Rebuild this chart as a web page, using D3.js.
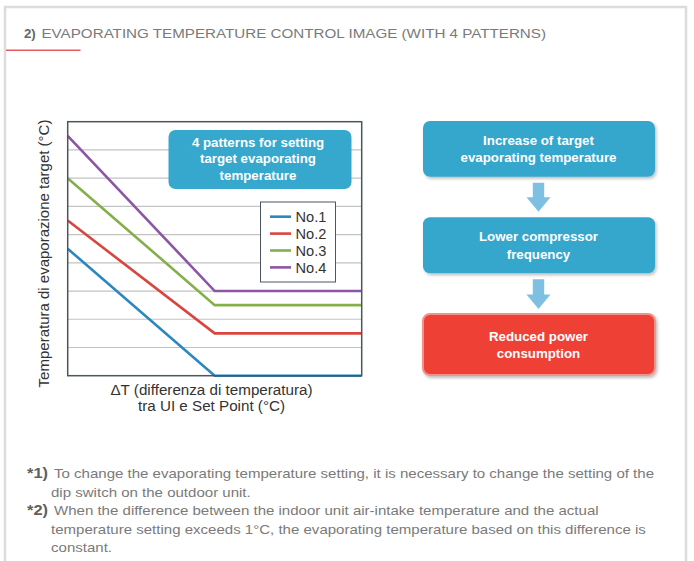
<!DOCTYPE html>
<html><head><meta charset="utf-8">
<script src="https://cdn.jsdelivr.net/npm/d3@7"></script>
<style>
html,body{margin:0;padding:0;background:#fff;}
svg{display:block;font-family:"Liberation Sans",Arial,sans-serif;}
</style></head>
<body><svg id="c" width="694" height="561"></svg>
<script>
// ---- data ----
const seriesNames = ["No.1","No.2","No.3","No.4"];
const seriesColors = ["#2a87c0","#d94640","#83b04a","#8c55a6"];
const deltaT = [0, 1, 2];
const no1 = [4.5, 0, 0];
const no2 = [5.5, 1.5, 1.5];
const no3 = [7, 2.5, 2.5];
const no4 = [8.5, 3, 3];
const gridValues = [1,2,3,4,5,6,7,8];
const titleBold = "2)";
const titleText = "EVAPORATING TEMPERATURE CONTROL IMAGE (WITH 4 PATTERNS)";
const yLabel = "Temperatura di evaporazione target (°C)";
const xLabel = ["ΔT (differenza di temperatura)", "tra UI e Set Point (°C)"];
const calloutText = ["4 patterns for setting", "target evaporating", "temperature"];
const flowSteps = [["Increase of target","evaporating temperature"],["Lower compressor","frequency"],["Reduced power","consumption"]];
const notes = [
  ["*1)", ["To change the evaporating temperature setting, it is necessary to change the setting of the", "dip switch on the outdoor unit."]],
  ["*2)", ["When the difference between the indoor unit air-intake temperature and the actual", "temperature setting exceeds 1°C, the evaporating temperature based on this difference is", "constant."]]
];

const svg = d3.select("#c");
const defs = svg.append("defs");
const f = defs.append("filter").attr("id","sh").attr("x","-10%").attr("y","-10%").attr("width","130%").attr("height","140%");
f.append("feDropShadow").attr("dx",1.5).attr("dy",2).attr("stdDeviation",1.5).attr("flood-color","#000").attr("flood-opacity",0.25);

// card
svg.append("rect").attr("x",5).attr("y",7).attr("width",681).attr("height",570)
  .attr("fill","#fff").attr("stroke","#dcdcdc").attr("stroke-width",2.5);
svg.append("text").attr("x",24).attr("y",37.5).attr("font-size",13.2).attr("font-weight","bold").attr("fill","#666").text(titleBold);
svg.append("text").attr("x",41.5).attr("y",37.5).attr("font-size",13.2).attr("fill","#7a7a7a")
  .attr("textLength",504.5).attr("lengthAdjust","spacingAndGlyphs").text(titleText);
svg.append("line").attr("x1",6).attr("x2",80.5).attr("y1",50.3).attr("y2",50.3).attr("stroke","#e7595e").attr("stroke-width",1.6);

// chart
const x = d3.scaleLinear().domain([0,2]).range([67.7,361.7]);
const y = d3.scaleLinear().domain([0,9]).range([375.7,121.7]);
const g = svg.append("g");
g.selectAll(".grid").data(gridValues).join("line")
  .attr("x1",x(0)).attr("x2",x(2)).attr("y1",d=>y(d)).attr("y2",d=>y(d))
  .attr("stroke","#c3c3c3").attr("stroke-width",1.2);

const allSeries = [no1,no2,no3,no4];
const line = d3.line().x((d,i)=>x(deltaT[i])).y(d=>y(d));
g.selectAll(".ser").data(allSeries).join("path")
  .attr("d",line).attr("fill","none").attr("stroke",(d,i)=>seriesColors[i]).attr("stroke-width",2.6);

g.append("rect").attr("x",x(0)).attr("y",y(9)).attr("width",x(2)-x(0)).attr("height",y(0)-y(9))
  .attr("fill","none").attr("stroke","#4b5661").attr("stroke-width",1.5);

// callout
svg.append("rect").attr("x",168.5).attr("y",130).attr("width",183).attr("height",59).attr("rx",7)
  .attr("fill","#36a7cd");
svg.append("text").attr("text-anchor","middle").attr("font-weight","bold").attr("font-size",13.3).attr("fill","#fff")
  .selectAll("tspan").data(calloutText).join("tspan").attr("x",258).attr("y",(d,i)=>146.5+i*16.7).text(d=>d);

// legend
svg.append("rect").attr("x",260.5).attr("y",202).attr("width",75).attr("height",80)
  .attr("fill","#fff").attr("stroke","#4b5661").attr("stroke-width",1);
const lg = svg.append("g").selectAll("g").data(seriesNames).join("g")
  .attr("transform",(d,i)=>`translate(0,${216.7+i*16.9})`);
lg.append("line").attr("x1",270).attr("x2",291).attr("stroke",(d,i)=>seriesColors[i]).attr("stroke-width",2.6);
lg.append("text").attr("x",295.5).attr("y",5.3).attr("font-size",14.6).attr("fill","#333").text(d=>d);

// axis labels
svg.append("text").attr("transform","translate(48.5,253.5) rotate(-90)").attr("text-anchor","middle")
  .attr("font-size",15).attr("fill","#333").text(yLabel);
svg.append("text").attr("text-anchor","middle").attr("font-size",15.2).attr("fill","#333")
  .selectAll("tspan").data(xLabel).join("tspan").attr("x",211.5).attr("y",(d,i)=>395+i*16.3).text(d=>d);

// flow chart
const boxY = [[121,176.7],[217.3,273.3],[314,375]];
const fl = svg.append("g");
boxY.forEach((b,i)=>{
  const red = i===2;
  fl.append("rect").attr("x",423).attr("y",b[0]).attr("width",232).attr("height",b[1]-b[0]).attr("rx",7)
    .attr("fill",red?"#ef3f36":"#35a6cc").attr("stroke",red?"#f3928a":"none").attr("stroke-width",red?2:0)
    .attr("filter","url(#sh)");
  fl.append("text").attr("text-anchor","middle").attr("font-weight","bold").attr("font-size",13.3).attr("fill","#fff")
    .selectAll("tspan").data(flowSteps[i]).join("tspan").attr("x",538.5)
    .attr("y",(d,j)=>(b[0]+b[1])/2-4+j*17.6).text(d=>d);
});
const arrows = [[182.7,211.7],[279.3,309]];
arrows.forEach(a=>{
  const cx=538.5, headY=a[1]-14.5;
  fl.append("path").attr("fill","#7ec0e1")
    .attr("d",`M${cx-5.7},${a[0]}H${cx+5.7}V${headY}H${cx+12}L${cx},${a[1]}L${cx-12},${headY}H${cx-5.7}Z`);
});

// footnotes
const nt = svg.append("g").attr("font-size",13.2).attr("fill","#7a7a7a");
let ly = 478;
const noteTexts = [];
notes.forEach((n,k)=>{
  nt.append("text").attr("x",27).attr("y",ly).attr("font-weight","bold").attr("font-size",14).attr("fill","#606060")
    .attr("textLength",21).attr("lengthAdjust","spacingAndGlyphs").text(n[0]);
  n[1].forEach((s,j)=>{
    noteTexts.push(nt.append("text").attr("x",j===0?54:51).attr("y",ly).text(s));
    ly += 18.5;
  });
});
// condense footnote text uniformly so the first line spans the reference width
const k = 600 / noteTexts[0].node().getComputedTextLength();
noteTexts.forEach(tx=>{
  const w = tx.node().getComputedTextLength();
  tx.attr("textLength", w*k).attr("lengthAdjust","spacingAndGlyphs");
});
</script></body></html>
